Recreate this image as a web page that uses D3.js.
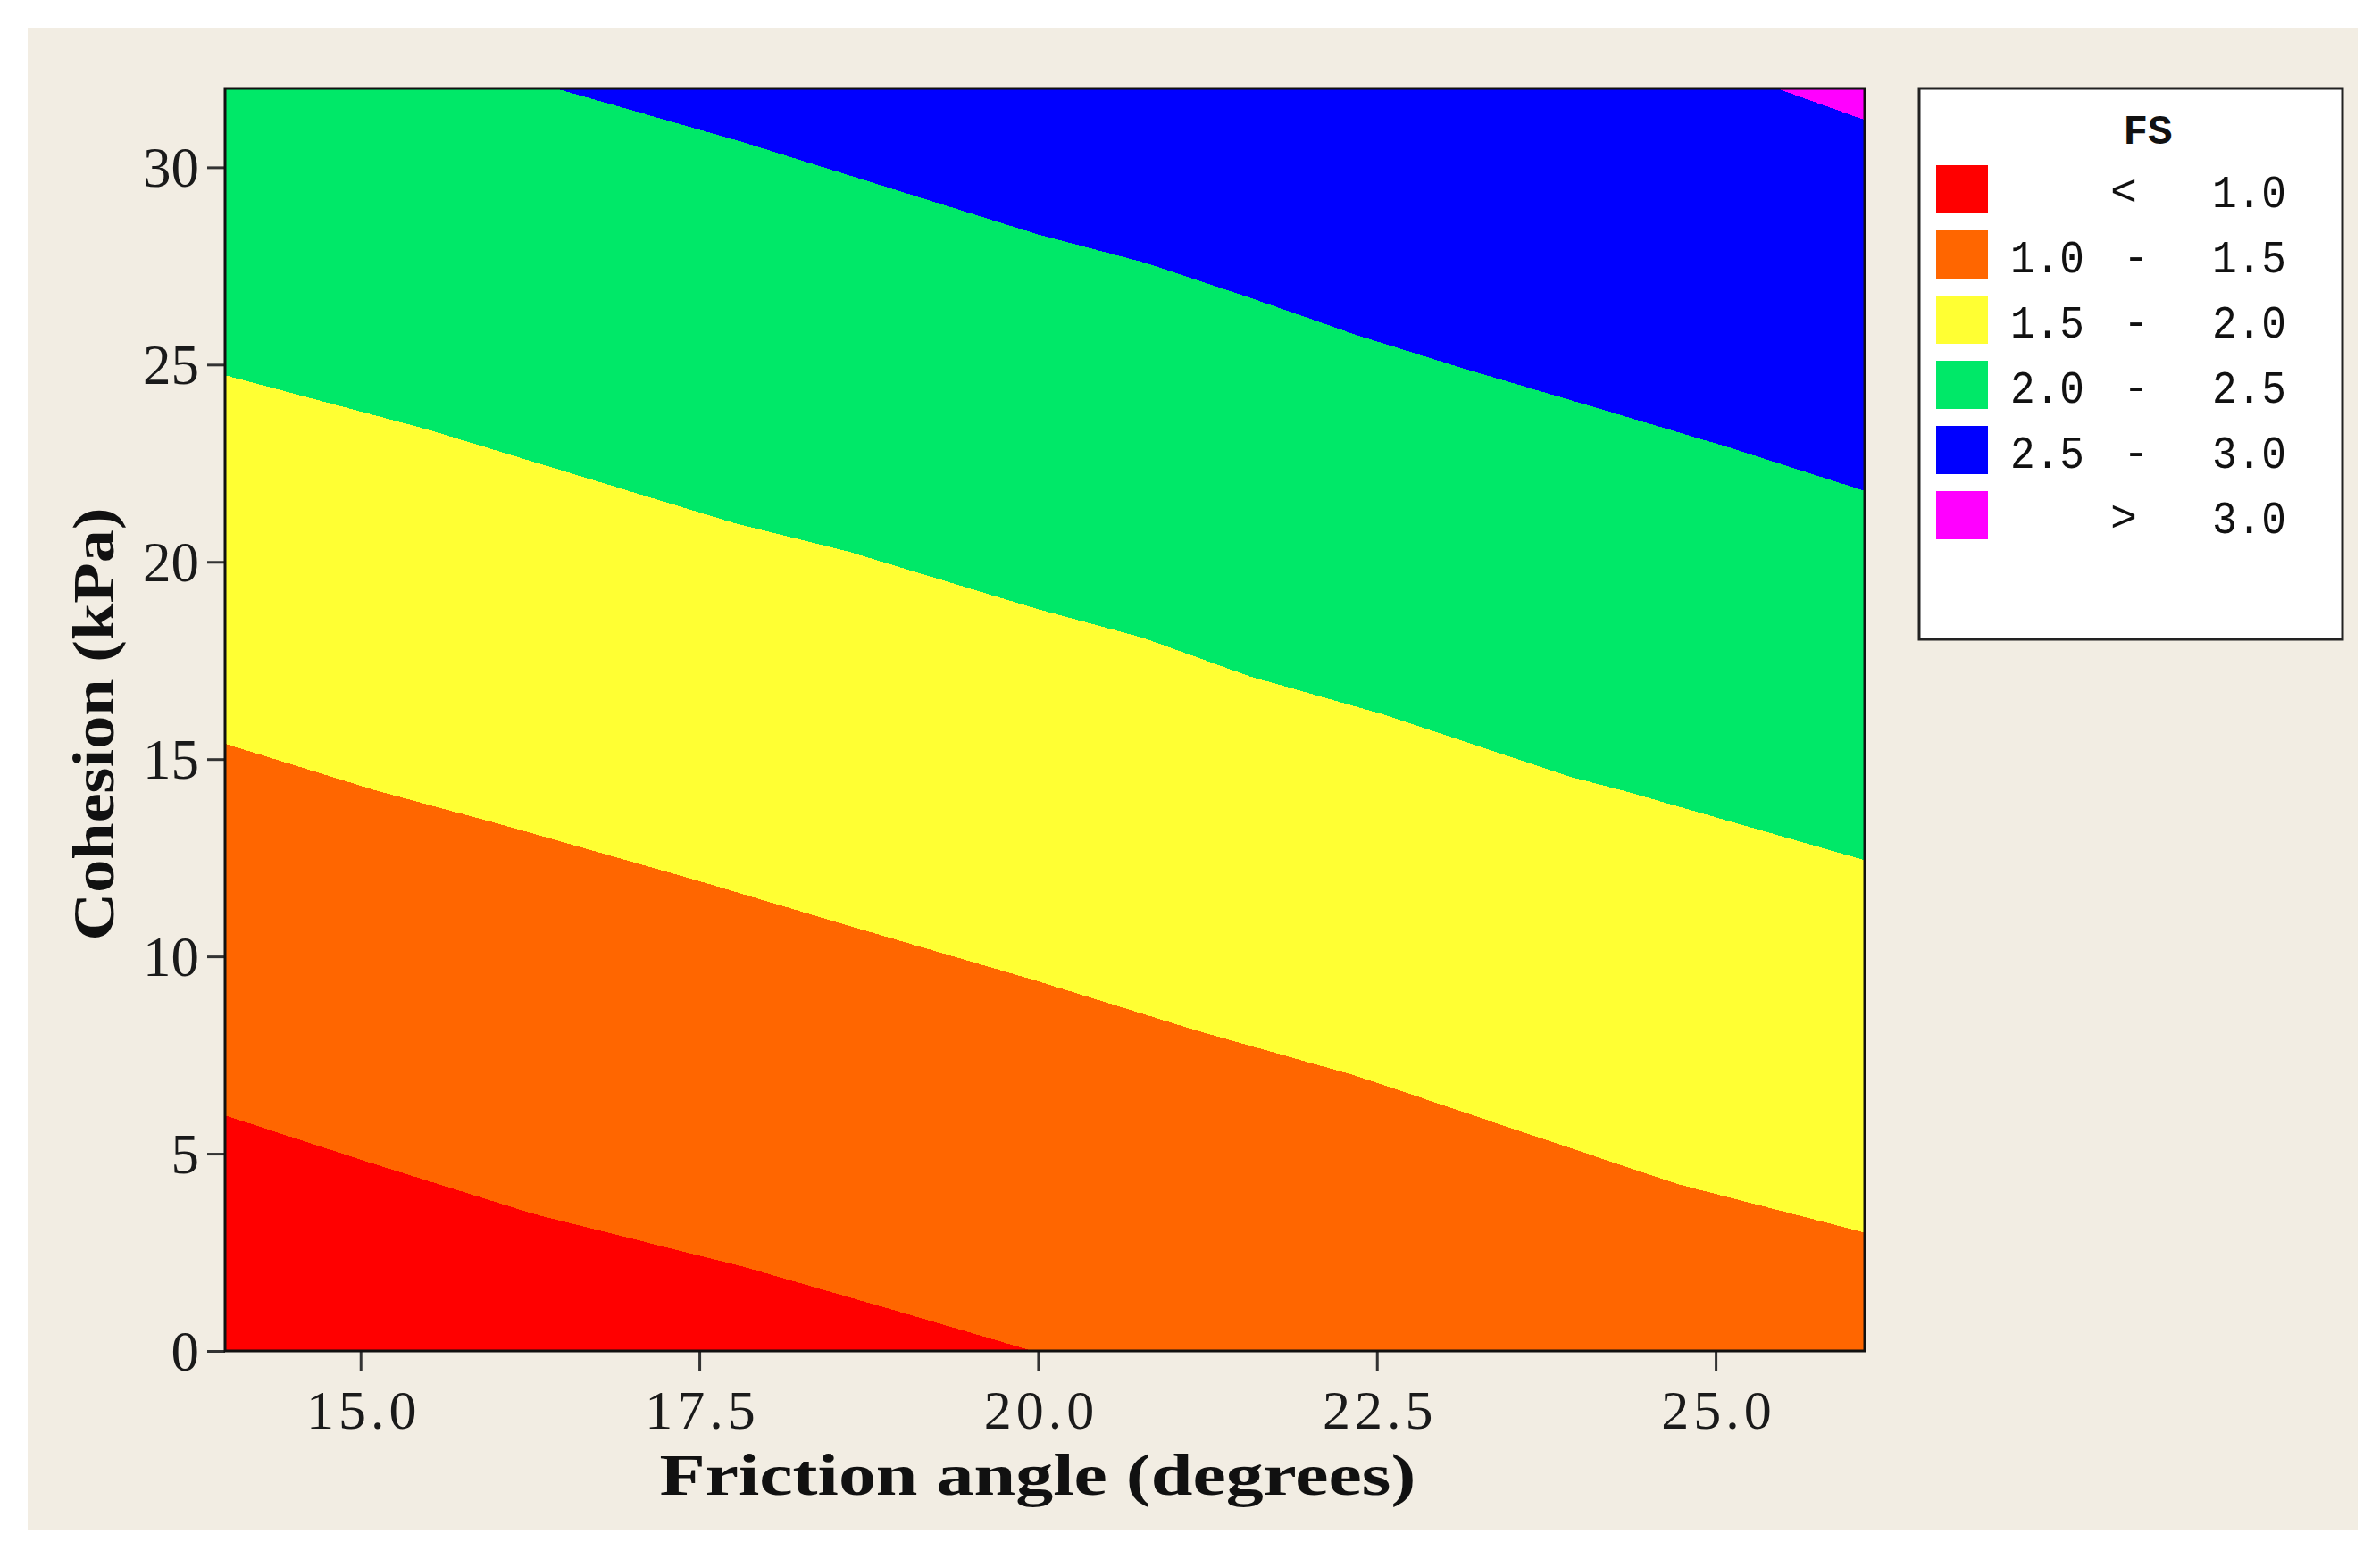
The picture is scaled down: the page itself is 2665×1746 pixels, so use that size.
<!DOCTYPE html>
<html>
<head>
<meta charset="utf-8">
<script src="https://cdn.jsdelivr.net/npm/d3@7"></script>
<style>
  body { margin: 0; background: #ffffff; }
  svg { display: block; }
</style>
</head>
<body>
<svg id="svg"></svg>
<script>
// FS levels and the colours of the bands between them
const fsLevels = [1.0, 1.5, 2.0, 2.5, 3.0]
const bandColors = ['#ff0000', '#ff6600', '#ffff33', '#00e868', '#0000ff', '#ff00ff']

// legend rows
const legendLow = ['', '1.0', '1.5', '2.0', '2.5', '']
const legendSym = ['<', '-', '-', '-', '-', '>']
const legendHigh = ['1.0', '1.5', '2.0', '2.5', '3.0', '3.0']

const xTicks = [15.0, 17.5, 20.0, 22.5, 25.0]
const yTicks = [0, 5, 10, 15, 20, 25, 30]

// contour boundaries: [friction angle, cohesion]
const fs10 = [[14, 5.97], [15.09, 4.75], [16.27, 3.48], [17.83, 2.13], [19.0, 0.97], [19.96, 0]]
const fs15 = [[14, 15.39], [15.09, 14.23], [16.03, 13.35], [17.44, 11.97], [18.61, 10.77], [20.0, 9.37],
  [21.17, 8.12], [22.35, 6.97], [23.54, 5.59], [24.72, 4.23], [26.1, 3.0]]
const fs20 = [[14, 24.73], [15.48, 23.37], [17.77, 20.97], [18.61, 20.25], [20.0, 18.8], [20.77, 18.08],
  [21.56, 17.1], [22.55, 16.13], [23.93, 14.55], [24.32, 14.2], [26.1, 12.44]]
const fs25 = [[16.44, 32], [17.83, 30.63], [20.0, 28.3], [20.77, 27.6], [21.56, 26.7], [22.35, 25.75],
  [23.14, 24.9], [23.93, 24.1], [24.32, 23.7], [25.1, 22.9], [26.1, 21.8]]
const fs30 = [[25.45, 32], [26.1, 31.2]]

const boundaries = [fs10, fs15, fs20, fs25, fs30]

const W = 2665, H = 1746

const svg = d3.select('#svg')
  .attr('width', W)
  .attr('height', H)

// beige panel
svg.append('rect')
  .attr('x', 31).attr('y', 31)
  .attr('width', 2609).attr('height', 1683)
  .attr('fill', '#f2ede3')

const plot = { left: 252, right: 2088, top: 99, bottom: 1513 }

const xScale = d3.scaleLinear()
  .domain([14, 26.1])
  .range([plot.left, plot.right])

const yScale = d3.scaleLinear()
  .domain([0, 32])
  .range([plot.bottom, plot.top])

svg.append('clipPath')
  .attr('id', 'plotClip')
  .append('rect')
  .attr('x', plot.left).attr('y', plot.top)
  .attr('width', plot.right - plot.left).attr('height', plot.bottom - plot.top)

const bands = svg.append('g').attr('clip-path', 'url(#plotClip)')

// lowest band fills everything, each next band is painted above its boundary
bands.append('rect')
  .attr('x', plot.left).attr('y', plot.top)
  .attr('width', plot.right - plot.left).attr('height', plot.bottom - plot.top)
  .attr('fill', bandColors[0])

const area = d3.area()
  .x(d => xScale(d[0]))
  .y0(d => yScale(d[1]))
  .y1(yScale(yScale.domain()[1]))

boundaries.forEach((b, i) => {
  let pts = b.slice()
  const last = pts[pts.length - 1]
  if (last[0] < xScale.domain()[1]) pts.push([xScale.domain()[1], last[1]])
  bands.append('path')
    .datum(pts)
    .attr('d', area)
    .attr('fill', bandColors[i + 1])
    .attr('shape-rendering', 'crispEdges')
})

// axes
const xAxis = svg.append('g')
  .attr('transform', 'translate(0,' + plot.bottom + ')')
  .call(d3.axisBottom(xScale).tickValues(xTicks).tickSize(22).tickFormat(d3.format('.1f')))
xAxis.select('.domain').remove()
xAxis.selectAll('line').attr('stroke', '#333').attr('stroke-width', 3)
xAxis.selectAll('text')
  .attr('y', 87).attr('dy', 0).attr('dx', 3)
  .attr('fill', '#1a1a1a')
  .style('font-family', '"Liberation Serif", serif')
  .style('font-size', '62px')
  .style('letter-spacing', '5px')

const yAxis = svg.append('g')
  .attr('transform', 'translate(' + plot.left + ',0)')
  .call(d3.axisLeft(yScale).tickValues(yTicks).tickSize(20).tickPadding(9))
yAxis.select('.domain').remove()
yAxis.selectAll('line').attr('stroke', '#333').attr('stroke-width', 3)
yAxis.selectAll('text')
  .attr('dy', '0.34em')
  .attr('fill', '#1a1a1a')
  .style('font-family', '"Liberation Serif", serif')
  .style('font-size', '63px')

// frame
svg.append('rect')
  .attr('x', plot.left).attr('y', plot.top)
  .attr('width', plot.right - plot.left).attr('height', plot.bottom - plot.top)
  .attr('fill', 'none')
  .attr('stroke', '#111')
  .attr('stroke-width', 3)

// axis titles
svg.append('text')
  .attr('x', 1162).attr('y', 1674)
  .attr('text-anchor', 'middle')
  .attr('textLength', 847)
  .attr('lengthAdjust', 'spacingAndGlyphs')
  .style('font-family', '"Liberation Serif", serif')
  .style('font-weight', 'bold')
  .style('font-size', '66px')
  .attr('fill', '#111')
  .text('Friction angle (degrees)')

svg.append('text')
  .attr('transform', 'translate(127,811) rotate(-90)')
  .attr('text-anchor', 'middle')
  .attr('textLength', 485)
  .attr('lengthAdjust', 'spacingAndGlyphs')
  .style('font-family', '"Liberation Serif", serif')
  .style('font-weight', 'bold')
  .style('font-size', '66px')
  .attr('fill', '#111')
  .text('Cohesion (kPa)')

// legend
const legend = svg.append('g')
legend.append('rect')
  .attr('x', 2149).attr('y', 99)
  .attr('width', 474).attr('height', 617)
  .attr('fill', '#ffffff')
  .attr('stroke', '#222')
  .attr('stroke-width', 3)

legend.append('text')
  .attr('x', 2405).attr('y', 161)
  .attr('text-anchor', 'middle')
  .style('font-family', '"Liberation Mono", monospace')
  .style('font-weight', 'bold')
  .style('font-size', '46px')
  .attr('fill', '#111')
  .text('FS')

const rowY = d3.scaleLinear().domain([0, 1]).range([212, 285])
const legendFont = '"Liberation Mono", monospace'

legendHigh.forEach((hi, i) => {
  const cy = rowY(i)
  legend.append('rect')
    .attr('x', 2168).attr('y', cy - 27)
    .attr('width', 58).attr('height', 54)
    .attr('fill', bandColors[i])
  if (legendLow[i]) {
    legend.append('text')
      .attr('x', 2251).attr('y', cy + 20)
      .attr('textLength', 83)
      .attr('lengthAdjust', 'spacingAndGlyphs')
      .style('font-family', legendFont)
      .style('font-size', '52px')
      .attr('fill', '#111')
      .text(legendLow[i])
  }
  legend.append('text')
    .attr('x', legendSym[i] === '-' ? 2392 : 2378).attr('y', cy + 18)
    .attr('text-anchor', 'middle')
    .style('font-family', legendFont)
    .style('font-size', '50px')
    .attr('fill', '#111')
    .text(legendSym[i])
  legend.append('text')
    .attr('x', 2477).attr('y', cy + 20)
    .attr('textLength', 83)
    .attr('lengthAdjust', 'spacingAndGlyphs')
    .style('font-family', legendFont)
    .style('font-size', '52px')
    .attr('fill', '#111')
    .text(hi)
})
</script>
</body>
</html>
